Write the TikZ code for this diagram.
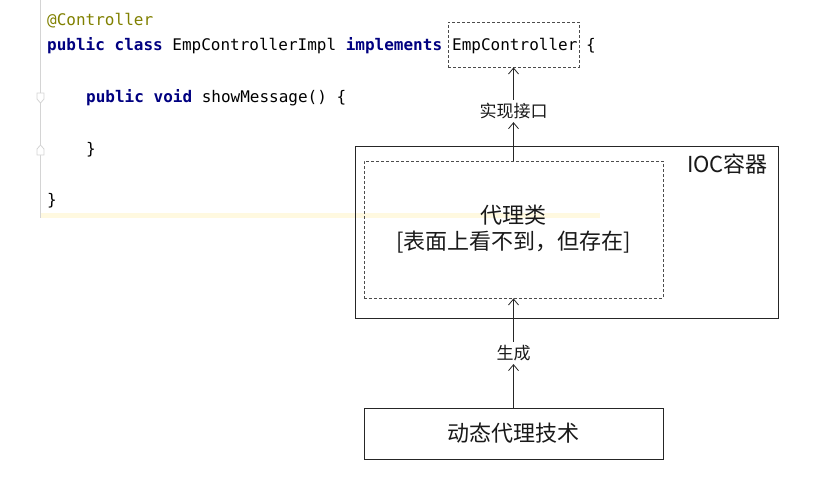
\documentclass[tikz,border=0pt]{standalone}
\usepackage{fontspec}
\usepackage{tikz}
\usetikzlibrary{arrows.meta, positioning, calc}
\newfontfamily\cjk{Noto Sans CJK SC}
\newfontfamily\codefont{DejaVu Sans Mono}
\definecolor{kwblue}{HTML}{000080}
\definecolor{annot}{HTML}{808000}
\definecolor{gutter}{HTML}{D4D4D4}
\definecolor{curline}{HTML}{FFF9E0}
\newcommand{\kwd}[1]{\textcolor{kwblue}{\bfseries #1}}

\begin{document}
\begin{tikzpicture}[x=1pt, y=-1pt,
    code/.style={anchor=base west, inner sep=0pt, font=\codefont\fontsize{16}{19}\selectfont},
    dashbox/.style={draw=black!70, dash pattern=on 3pt off 2pt, line width=0.8pt, inner sep=0pt},
    solidbox/.style={draw=black!85, line width=0.9pt, inner sep=0pt},
    lbl/.style={font=\cjk\fontsize{17}{20}\selectfont, text=black!90, inner sep=3pt},
    big/.style={font=\cjk\fontsize{22}{28}\selectfont, text=black!90},
    arr/.style={-{Straight Barb[length=6pt, width=10pt]}, line width=0.8pt, black!85}]
    % Bild auf Referenzgröße festlegen
    \useasboundingbox (0,0) rectangle (830,480);

    % Editor-Hintergrund: Rand und aktuelle Zeile
    \draw[gutter, line width=1pt] (40.5,0) -- (40.5,218);
    \fill[curline] (41,212.5) rectangle (600,218);
    \draw[gutter, fill=white, line width=0.8pt] (37,93) -- (44,93) -- (44,99) -- (40.5,103) -- (37,99) -- cycle;
    \draw[gutter, fill=white, line width=0.8pt] (37,155) -- (44,155) -- (44,149) -- (40.5,145) -- (37,149) -- cycle;

    % Quelltext
    \node[code, text=annot] (anno) at (47,25) {@Controller};
    \node[code] (clsline) at (47,50.5) {\kwd{public class} EmpControllerImpl \kwd{implements}};
    \node[code] (ifacetxt) at (452,50.5) {EmpController};
    \node[code] (openbr) at (586,50.5) {\{};
    \node[code] (methline) at (86,102) {\kwd{public void} showMessage() \{};
    \node[code] (closem) at (86,154) {\}};
    \node[code] (closec) at (47,205.5) {\}};

    % Kästen
    \node[dashbox, minimum width=131pt, minimum height=45pt] (iface) at (513.5,44.5) {};
    \node[solidbox, minimum width=423pt, minimum height=172pt] (ioc) at (566.5,232) {};
    \node[big, anchor=north east, inner sep=0pt] (ioclbl) at (768,154) {IOC容器};
    \node[dashbox, minimum width=299pt, minimum height=137pt, big, align=center] (proxy) at (513.5,229.5)
        {代理类\\[-2pt][表面上看不到，但存在]};
    \node[solidbox, minimum width=299pt, minimum height=51pt, big] (tech) at (513.5,433.5) {动态代理技术};

    % Beschriftungen und Pfeile
    \node[lbl] (impl) at (513.5,111) {实现接口};
    \node[lbl] (gen) at (513.5,353) {生成};
    \draw[arr] (proxy.north) -- (impl.south);
    \draw[arr] (impl.north) -- (iface.south);
    \draw[arr] (tech.north) -- (gen.south);
    \draw[arr] (gen.north) -- (proxy.south);
\end{tikzpicture}
\end{document}
